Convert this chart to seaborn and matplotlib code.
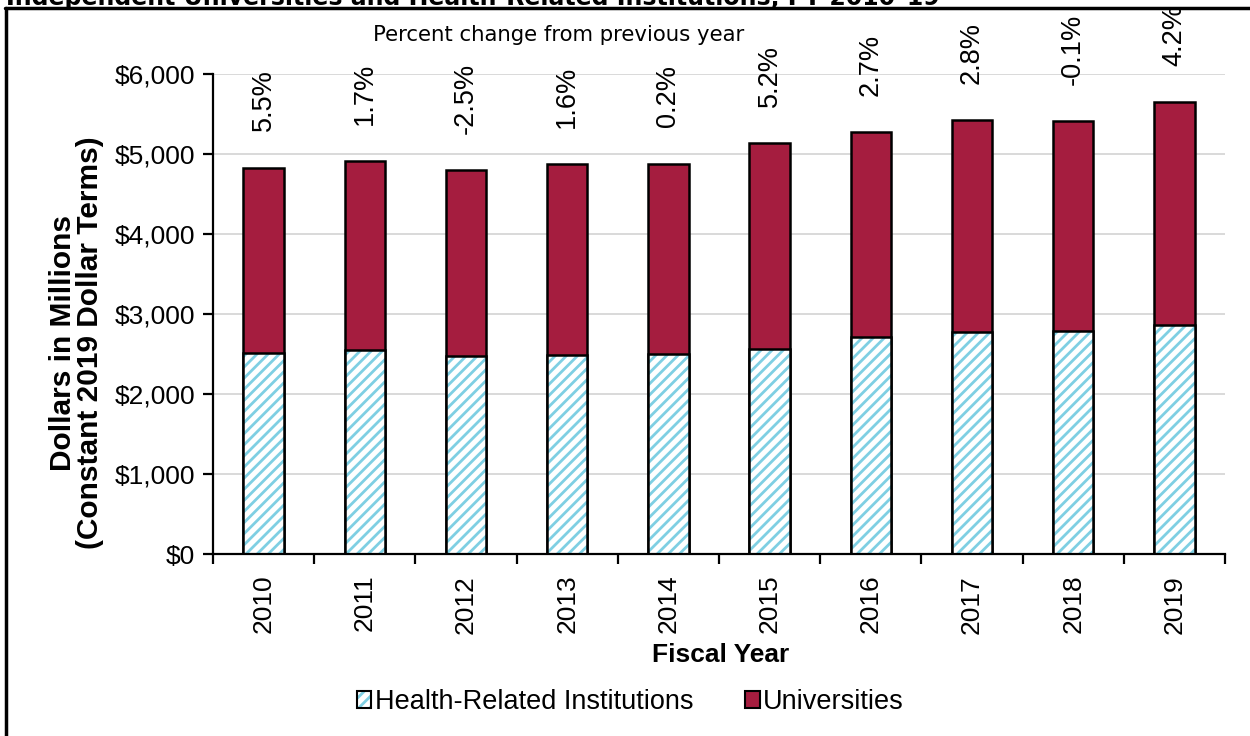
import matplotlib
matplotlib.use("Agg")
import matplotlib.pyplot as plt
from matplotlib.lines import Line2D
from matplotlib.patches import Rectangle, Patch
from matplotlib.legend_handler import HandlerTuple
import seaborn as sns
import pandas as pd

# Appropriations by fiscal year, millions of constant 2019 dollars
years = ["2010", "2011", "2012", "2013", "2014", "2015", "2016", "2017", "2018", "2019"]
health_related = [2510, 2545, 2475, 2485, 2505, 2560, 2710, 2770, 2785, 2865]
universities = [2320, 2370, 2320, 2385, 2375, 2575, 2560, 2650, 2630, 2780]
pct_change = ["5.5%", "1.7%", "-2.5%", "1.6%", "0.2%", "5.2%", "2.7%", "2.8%", "-0.1%", "4.2%"]

df = pd.DataFrame({
    "year": years,
    "health": health_related,
    "univ": universities,
})
df["total"] = df["health"] + df["univ"]

UNIV_COLOR = "#A51D3F"
HATCH_COLOR = "#7FCFE3"

sns.set_theme(style="white")
plt.rcParams["font.family"] = ["Liberation Sans", "DejaVu Sans"]
plt.rcParams["text.color"] = "black"
plt.rcParams["axes.labelcolor"] = "black"
plt.rcParams["xtick.color"] = "black"
plt.rcParams["ytick.color"] = "black"
plt.rcParams["hatch.linewidth"] = 2.0

fig = plt.figure(figsize=(12.5, 7.36), dpi=100)
ax = fig.add_axes([213 / 1250, 1 - 554 / 736, 1012 / 1250, 480 / 736])

# Stacked bars: full height in the university colour, health-related segment on top of it
sns.barplot(data=df, x="year", y="total", color=UNIV_COLOR, saturation=1,
            width=0.4, edgecolor="black", linewidth=1.8, ax=ax)
n_before = len(ax.patches)
sns.barplot(data=df, x="year", y="health", color="white", saturation=1,
            width=0.4, edgecolor=HATCH_COLOR, linewidth=0, hatch="///", ax=ax)
for p in ax.patches[n_before:]:
    ax.add_patch(Rectangle(p.get_xy(), p.get_width(), p.get_height(),
                           fill=False, edgecolor="black", linewidth=1.8, zorder=3))

# Percent-change labels above each bar
for i, (tot, lab) in enumerate(zip(df["total"], pct_change)):
    ax.annotate(lab, xy=(i, tot), xytext=(0, 26), textcoords="offset points",
                rotation=90, ha="center", va="bottom", fontsize=19.5,
                color="black", annotation_clip=False)

ax.set_ylim(0, 6000)
ax.set_xlim(-0.5, len(years) - 0.5)
ax.set_yticks(range(0, 6001, 1000))
ax.set_yticklabels([f"${v:,}" for v in range(0, 6001, 1000)], fontsize=19)
ax.yaxis.grid(True, color="#D9D9D9", linewidth=1.4)
ax.set_axisbelow(True)

ax.set_xticks(range(len(years)))
ax.set_xticklabels(years, rotation=90, fontsize=19)
ax.set_xticks([i - 0.5 for i in range(len(years) + 1)], minor=True)
ax.tick_params(axis="x", which="major", length=0, pad=15)
ax.tick_params(axis="x", which="minor", length=7, width=1.6, direction="out", color="black",
               bottom=True)
ax.tick_params(axis="y", which="major", length=7, width=1.6, direction="out", color="black",
               pad=6, left=True)

for side in ["top", "right"]:
    ax.spines[side].set_visible(False)
for side in ["left", "bottom"]:
    ax.spines[side].set_color("black")
    ax.spines[side].set_linewidth(1.6)

ax.set_xlabel("")
ax.set_ylabel("Dollars in Millions\n(Constant 2019 Dollar Terms)", fontsize=21.5,
              fontweight="bold", linespacing=0.95)
ax.yaxis.set_label_coords(-0.108, 0.44)

fig.text(721 / 1250, 1 - 655 / 736, "Fiscal Year", ha="center", va="center",
         fontsize=19, fontweight="bold")

fig.text(559 / 1250, 1 - 35 / 736, "Percent change from previous year", ha="center",
         va="center", fontsize=15.3, family=["DejaVu Sans"])

# Chart title sitting above the frame
fig.text(6 / 1250, 1 - 5 / 736,
         "Independent Universities and Health-Related Institutions, FY 2010\u201319",
         ha="left", va="baseline", fontsize=17, fontweight="bold", family=["DejaVu Sans"])

# Frame lines on the left and top
fig.add_artist(Line2D([6 / 1250, 6 / 1250], [0, 1 - 8 / 736], transform=fig.transFigure,
                      color="black", linewidth=2.5))
fig.add_artist(Line2D([5 / 1250, 1], [1 - 8 / 736, 1 - 8 / 736], transform=fig.transFigure,
                      color="black", linewidth=2.5))

health_handle = (
    Patch(facecolor="white", edgecolor=HATCH_COLOR, hatch="///", linewidth=0),
    Patch(facecolor="none", edgecolor="black", linewidth=1.5),
)
univ_handle = Patch(facecolor=UNIV_COLOR, edgecolor="black", linewidth=1.5)
leg = fig.legend([health_handle, univ_handle], ["Health-Related Institutions", "Universities"],
                 loc="center", bbox_to_anchor=(630 / 1250, 1 - 702 / 736), ncol=2,
                 frameon=False, fontsize=19.5, handlelength=0.55, handleheight=0.55,
                 handletextpad=0.12, columnspacing=1.9,
                 handler_map={tuple: HandlerTuple(ndivide=1, pad=0)})

fig.savefig("out.png", dpi=100, facecolor="white")
